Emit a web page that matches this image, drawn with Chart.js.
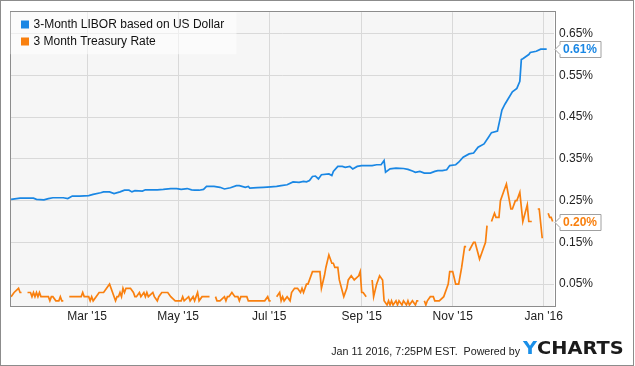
<!DOCTYPE html>
<html>
<head>
<meta charset="utf-8">
<script src="https://cdn.jsdelivr.net/npm/chart.js@4.4.1/dist/chart.umd.min.js"></script>
<style>
  html, body { margin: 0; padding: 0; background: #fff; }
  canvas { display: block; }
</style>
</head>
<body>
<canvas id="rates-chart" width="635" height="366"></canvas>
<script>
// dias contados a partir de 1 jan 2015 (0 = 1 jan 2015)
const monthTickDays = [59, 120, 181, 243, 304, 365];
const monthTickLabels = ["Mar '15", "May '15", "Jul '15", "Sep '15", "Nov '15", "Jan '16"];
const yTickValues = [0.05, 0.15, 0.25, 0.35, 0.45, 0.55, 0.65];

const seriesNames = ["3-Month LIBOR based on US Dollar", "3 Month Treasury Rate"];

const liborDays = [8, 14, 23, 25, 30, 33, 36, 43, 46, 49, 54, 60, 63, 68, 70, 74, 77, 81, 84, 87, 89, 91, 96, 98,
	106, 110, 115, 119, 122, 126, 129, 131, 134, 137, 139, 144, 148, 151, 155, 159, 161, 165, 167, 168, 173, 177,
	182, 186, 189, 193, 197, 201, 204, 206, 208, 210, 212, 214, 216, 221, 223, 224, 227, 230, 232, 235, 237, 240,
	243, 246, 250, 253, 256, 258, 259, 262, 266, 271, 274, 277, 279, 282, 285, 289, 292, 294, 297, 300, 302, 306,
	308, 311, 315, 318, 321, 325, 328, 330, 334, 336, 337, 339, 341, 344, 347, 349, 350, 351, 355, 356, 360, 363, 367];
const liborValues = [0.253, 0.256, 0.256, 0.253, 0.252, 0.255, 0.257, 0.257, 0.255, 0.261, 0.261, 0.262, 0.265,
	0.269, 0.271, 0.271, 0.267, 0.271, 0.275, 0.275, 0.271, 0.274, 0.273, 0.276,
	0.276, 0.277, 0.279, 0.279, 0.277, 0.279, 0.276, 0.275, 0.275, 0.277, 0.284, 0.284, 0.282, 0.278, 0.281, 0.286,
	0.286, 0.282, 0.284, 0.280, 0.281, 0.282,
	0.283, 0.284, 0.286, 0.288, 0.295, 0.294, 0.296, 0.295, 0.298, 0.308, 0.309, 0.302, 0.312, 0.314, 0.310, 0.320,
	0.332, 0.332, 0.330, 0.332, 0.326, 0.332,
	0.334, 0.334, 0.334, 0.336, 0.336, 0.346, 0.318, 0.326, 0.328, 0.327, 0.325, 0.321, 0.318, 0.320, 0.316, 0.316,
	0.320, 0.322, 0.322, 0.324, 0.334, 0.336,
	0.342, 0.354, 0.362, 0.364, 0.378, 0.386, 0.402, 0.413, 0.417, 0.450, 0.467, 0.481, 0.493, 0.511, 0.519, 0.536,
	0.588, 0.590, 0.600, 0.605, 0.608, 0.613, 0.613];

// null = feriado (sem cotação)
const treasuryDays = [8, 10, 13, 14, 15, 18,
	19, 21, 22, 23, 24, 25, 26, 27, 28, 31, 33, 34, 35, 36, 38, 40, 41, 42, 43, 46,
	47, 55, 56, 57, 60, 61, 62, 63, 65, 67, 70, 72, 74, 75, 78, 79, 80, 81, 82, 83, 84, 85, 88, 90, 91, 92, 94, 95,
	97, 98, 99, 100, 103, 104, 106, 107, 109, 111, 113, 115, 118, 120, 122, 123, 124, 127, 128, 130, 131, 132, 133,
	134, 136, 141, 144,
	145, 146, 148, 151, 152, 153, 154, 156, 158, 160, 161, 162, 166, 167, 178, 180, 181, 182, 183,
	186, 188, 189, 190, 191, 193, 195, 196, 198, 200, 202, 203, 204, 206, 207, 210, 212, 215, 216, 218, 219, 221,
	223, 224, 225, 227, 228, 231, 233, 234, 236, 238, 241, 242, 243, 244, 246, 249,
	250, 251, 253, 255, 257, 258, 260, 261, 262, 263, 264, 266, 267, 268, 270, 271, 273, 274, 275, 277, 279, 280,
	281, 284,
	285, 286, 287, 289, 291, 292, 293, 295, 298, 300, 301, 302, 304, 306, 308, 310, 312, 313, 314, 315, 318, 319,
	322, 323, 326, 327, 329,
	330, 332, 333, 335, 336, 338, 340, 341, 343, 344, 346, 347, 348, 349, 351, 354, 355, 357, 358,
	361, 362, 364, 365,
	368, 369, 370, 371];
const treasuryValues = [0.02, 0.03, 0.04, 0.03, 0.03, null,
	0.03, 0.03, 0.02, 0.03, 0.02, 0.03, 0.02, 0.03, 0.02, 0.02, 0.02, 0.01, 0.02, 0.02, 0.01, 0.01, 0.02, 0.01, 0.01, null,
	0.02, 0.02, 0.03, 0.02, 0.02, 0.01, 0.02, 0.01, 0.02, 0.03, 0.03, 0.04, 0.05, 0.04, 0.01, 0.02, 0.02, 0.03, 0.02,
	0.04, 0.03, 0.04, 0.04, 0.03, 0.02, 0.02, 0.03, 0.02,
	0.03, 0.02, 0.03, 0.02, 0.03, 0.02, 0.01, 0.02, 0.03, 0.03, 0.03, 0.02, 0.01, 0.01, 0.01, 0.02, 0.01, 0.02, 0.01,
	0.02, 0.01, 0.02, 0.03,
	0.01, 0.02, 0.02, null,
	0.02, 0.01, 0.01, 0.02, 0.01, 0.02, 0.02, 0.03, 0.02, 0.02, 0.01, 0.02, 0.02, 0.01, 0.01, 0.02, 0.01, 0.01, null,
	0.02, 0.03, 0.01, 0.02, 0.01, 0.02, 0.01, 0.03, 0.04, 0.04, 0.03, 0.04, 0.03, 0.05, 0.05, 0.08, 0.08, 0.08, 0.04,
	0.07, 0.09, 0.12,
	0.10, 0.10, 0.09, 0.09, 0.06, 0.02, 0.04, 0.06, 0.07, 0.06, 0.07, 0.08, 0.03, 0.03, 0.02, null,
	0.06, 0.02, 0.05, 0.07, 0.06, 0.01, 0.00, 0.01, 0.00, 0.01, 0.00, 0.01, 0.00, 0.01, 0.00, 0.01, 0.00, 0.01, 0.00,
	0.01, 0.00, 0.01,
	0.01, null,
	0.01, 0.00, 0.01, 0.02, 0.02, 0.01, 0.01, 0.01, 0.02, 0.04, 0.05, 0.08, 0.08, 0.05, 0.05, 0.09, 0.14, 0.14, null,
	0.13, 0.15, 0.15,
	0.11, 0.12, 0.15, 0.19, null,
	0.20, 0.22, 0.21, 0.21, 0.25, 0.27, 0.29, 0.27, 0.23, 0.23, 0.25, 0.25, 0.26, 0.27, 0.20, 0.24, 0.20, 0.20, null,
	0.23, 0.23, 0.16, null,
	0.22, 0.21, 0.21, 0.20];

const blue = "#1a87e4";
const orange = "#f9800f";
const fontFamily = "'Liberation Sans', Arial, sans-serif";

function toPoints(days, values) {
	return days.map((d, i) => ({ x: d, y: values[i] }));
}

const decorations = {
	id: "decorations",
	beforeDraw(chart) {
		const { ctx, chartArea: a } = chart;
		ctx.save();
		ctx.fillStyle = "#fff";
		ctx.fillRect(0, 0, chart.width, chart.height);
		ctx.fillStyle = "#f6f6f6";
		ctx.fillRect(a.left, a.top, a.right - a.left, a.bottom - a.top);
		ctx.restore();
	},
	afterDraw(chart) {
		const { ctx, chartArea: a } = chart;
		ctx.save();

		// borda da área do gráfico
		ctx.strokeStyle = "#8c8c8c";
		ctx.lineWidth = 1;
		ctx.strokeRect(Math.round(a.left) - 0.5, Math.round(a.top) - 0.5,
			Math.round(a.right - a.left) + 1, Math.round(a.bottom - a.top) + 1);

		// borda externa
		ctx.strokeStyle = "#8c8c8c";
		ctx.strokeRect(0.5, 0.5, chart.width - 2, chart.height - 1);

		// legenda
		ctx.fillStyle = "rgba(255,255,255,0.55)";
		ctx.fillRect(a.left, a.top, 226, 42);
		ctx.font = "12px " + fontFamily;
		ctx.textBaseline = "middle";
		const colors = [blue, orange];
		seriesNames.forEach((name, i) => {
			const cy = 24.5 + i * 17;
			ctx.fillStyle = colors[i];
			ctx.fillRect(21, cy - 4, 8, 8);
			ctx.fillStyle = "#111";
			ctx.fillText(name, 33.5, cy);
		});

		// etiquetas do último valor
		const yScale = chart.scales.y;
		chart.data.datasets.forEach(ds => {
			let last = null;
			for (let i = ds.data.length - 1; i >= 0; i--) {
				if (ds.data[i].y !== null) { last = ds.data[i]; break; }
			}
			const y = Math.round(yScale.getPixelForValue(last.y)) + 0.5;
			const tip = a.right + 1;
			const left = tip + 5, right = left + 41, top = y - 8, bottom = y + 8;
			ctx.beginPath();
			ctx.moveTo(left, top);
			ctx.lineTo(right, top);
			ctx.lineTo(right, bottom);
			ctx.lineTo(left, bottom);
			ctx.lineTo(left, y + 5);
			ctx.lineTo(tip, y);
			ctx.lineTo(left, y - 5);
			ctx.closePath();
			ctx.fillStyle = "#fff";
			ctx.fill();
			ctx.strokeStyle = "#a0a0a0";
			ctx.stroke();
			ctx.fillStyle = ds.borderColor;
			ctx.font = "bold 12px " + fontFamily;
			ctx.textAlign = "left";
			ctx.fillText(last.y.toFixed(2) + "%", left + 3, y + 0.5);
		});

		// rodapé
		ctx.fillStyle = "#222";
		ctx.font = "10.7px " + fontFamily;
		ctx.textAlign = "right";
		ctx.fillText("Jan 11 2016, 7:25PM EST.  Powered by", 520, 352);

		ctx.font = "bold 18px 'DejaVu Sans', sans-serif";
		ctx.textAlign = "left";
		const wY = ctx.measureText("Y").width;
		const wAll = ctx.measureText("YCHARTS").width;
		ctx.translate(523, 349.5);
		ctx.scale(100 / wAll, 1);
		ctx.fillStyle = "#1a8fe8";
		ctx.fillText("Y", 0, 0);
		ctx.fillStyle = "#1b1b1b";
		ctx.fillText("CHARTS", wY, 0);
		ctx.restore();
	}
};

new Chart(document.getElementById("rates-chart"), {
	type: "line",
	data: {
		datasets: [
			{
				label: seriesNames[0],
				data: toPoints(liborDays, liborValues),
				borderColor: blue,
				borderWidth: 1.7,
				pointRadius: 0,
				tension: 0,
				spanGaps: false
			},
			{
				label: seriesNames[1],
				data: toPoints(treasuryDays, treasuryValues),
				borderColor: orange,
				borderWidth: 1.7,
				pointRadius: 0,
				tension: 0,
				spanGaps: false
			}
		]
	},
	options: {
		responsive: false,
		animation: false,
		devicePixelRatio: 1,
		layout: { padding: { left: 10.5, top: 10.5, right: 0, bottom: 0 } },
		plugins: {
			legend: { display: false },
			tooltip: { enabled: false }
		},
		scales: {
			x: {
				type: "linear",
				min: 7.6,
				max: 371.9,
				afterBuildTicks: scale => { scale.ticks = monthTickDays.map(v => ({ value: v })); },
				afterFit: scale => { scale.height = 60; },
				grid: { color: "#d9d9d9", drawTicks: false },
				border: { display: false },
				ticks: {
					padding: 3,
					color: "#222",
					maxRotation: 0,
					autoSkip: false,
					font: { family: fontFamily, size: 12 },
					callback: (v, i) => monthTickLabels[i]
				}
			},
			y: {
				position: "right",
				min: -0.0024,
				max: 0.7015,
				afterBuildTicks: scale => { scale.ticks = yTickValues.map(v => ({ value: v })); },
				afterFit: scale => { scale.width = 81; },
				grid: { color: "#d9d9d9", drawTicks: false },
				border: { display: false },
				ticks: {
					padding: 5,
					color: "#222",
					font: { family: fontFamily, size: 12 },
					callback: (v, i) => yTickValues[i].toFixed(2) + "%"
				}
			}
		}
	},
	plugins: [decorations]
});
</script>
</body>
</html>
